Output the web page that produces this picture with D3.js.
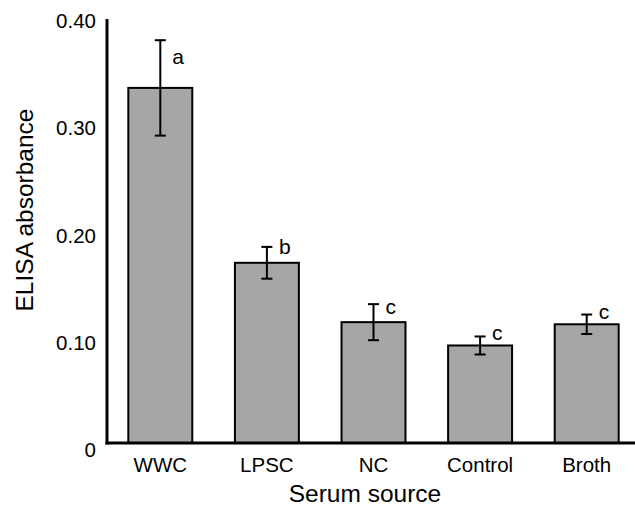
<!DOCTYPE html>
<html><head><meta charset="utf-8">
<script src="https://cdn.jsdelivr.net/npm/d3@7"></script>
<style>body{margin:0;background:#fff}svg{display:block}text{font-family:"Liberation Sans",Arial,sans-serif;fill:#000}</style>
</head><body><svg id="c" width="635" height="508"></svg>
<script>
const categories = ["WWC","LPSC","NC","Control","Broth"];
const means = [0.335, 0.170, 0.114, 0.092, 0.112];
const errors = [0.045, 0.015, 0.017, 0.0085, 0.0092];
const letters = ["a","b","c","c","c"];
const letterBaseline = [0.358, 0.178, 0.1217, 0.0972, 0.117];
const yTicks = [0, 0.10, 0.20, 0.30, 0.40];
const yTickLabels = ["0","0.10","0.20","0.30","0.40"];

const svg = d3.select("#c");
const x = d3.scaleBand().domain(categories).range([107, 640]).paddingInner(0.4).paddingOuter(0.2);
const y = d3.scaleLinear().domain([0, 0.40]).range([443, 19]);
const yLab = d3.scaleLinear().domain([0, 0.40]).range([456.7, 28.3]);

// bars
svg.selectAll("rect.bar").data(categories).enter().append("rect")
  .attr("x", d => x(d)).attr("width", x.bandwidth())
  .attr("y", (d,i) => y(means[i])).attr("height", (d,i) => y(0) - y(means[i]))
  .attr("fill", "#a6a6a6").attr("stroke", "#000").attr("stroke-width", 2);

// error bars
const cap = 5.5;
categories.forEach((d,i) => {
  const cx = x(d) + x.bandwidth()/2;
  const g = svg.append("g").attr("stroke","#000").attr("stroke-width",2);
  g.append("line").attr("x1",cx).attr("x2",cx).attr("y1",y(means[i]+errors[i])).attr("y2",y(means[i]-errors[i]));
  g.append("line").attr("x1",cx-cap).attr("x2",cx+cap).attr("y1",y(means[i]+errors[i])).attr("y2",y(means[i]+errors[i]));
  g.append("line").attr("x1",cx-cap).attr("x2",cx+cap).attr("y1",y(means[i]-errors[i])).attr("y2",y(means[i]-errors[i]));
  svg.append("text").attr("x", cx + 12).attr("y", y(letterBaseline[i]))
    .attr("font-size", 21).text(letters[i]);
});

// axes
svg.append("line").attr("x1",107).attr("x2",107).attr("y1",y(0.40)).attr("y2",y(0)+1.5).attr("stroke","#000").attr("stroke-width",3);
svg.append("line").attr("x1",105.5).attr("x2",635).attr("y1",y(0)).attr("y2",y(0)).attr("stroke","#000").attr("stroke-width",3);

// y tick labels
svg.selectAll("text.yt").data(yTicks).enter().append("text")
  .attr("x", 96).attr("y", d => yLab(d)).attr("text-anchor","end")
  .attr("font-size", 20.5).text((d,i) => yTickLabels[i]);

// x labels
svg.selectAll("text.xt").data(categories).enter().append("text")
  .attr("x", d => x(d) + x.bandwidth()/2).attr("y", 471.5).attr("text-anchor","middle")
  .attr("font-size", 20.5).text(d => d);

svg.append("text").attr("x", 365).attr("y", 502).attr("text-anchor","middle").attr("font-size", 24.5).text("Serum source");
svg.append("text").attr("transform","translate(33,210) rotate(-90)").attr("text-anchor","middle").attr("font-size", 24.5).text("ELISA absorbance");
</script></body></html>
